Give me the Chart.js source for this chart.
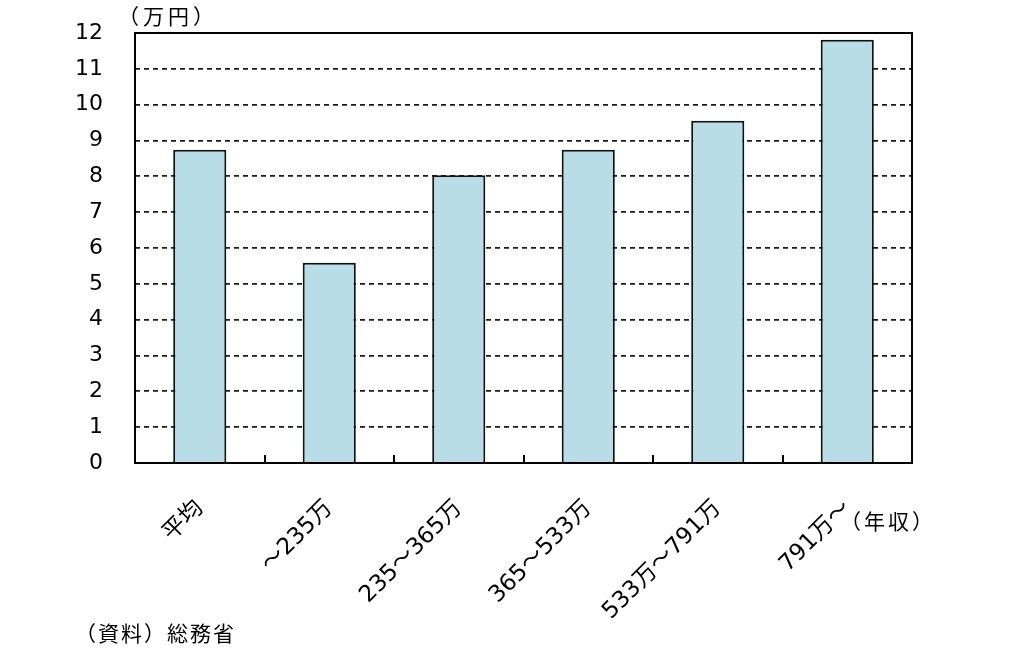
<!DOCTYPE html>
<html>
<head>
<meta charset="utf-8">
<script src="https://cdn.jsdelivr.net/npm/chart.js@4"></script>
<style>
html,body{margin:0;padding:0;background:#fff;}
#wrap{width:1036px;height:658px;position:relative;}
</style>
</head>
<body>
<div id="wrap"><canvas id="c" width="1036" height="658"></canvas></div>
<script>
const categories = ['平均', '～235万', '235～365万', '365～533万', '533万～791万', '791万～'];
const values = [8.74, 5.59, 8.03, 8.74, 9.55, 11.81];
const yTickValues = [0, 1, 2, 3, 4, 5, 6, 7, 8, 9, 10, 11, 12];
const unitLabel = '（万円）';
const lastSuffix = '（年収）';
const sourceNote = '（資料）総務省';

const FONT = '"DejaVu Sans", "Noto Sans CJK JP", sans-serif';
const CJK = '"Noto Sans CJK JP", sans-serif';

const decor = {
  id: 'decor',
  afterDatasetsDraw(chart) {
    const ctx = chart.ctx;
    const a = chart.chartArea;
    const xs = chart.scales.x;
    ctx.save();
    ctx.strokeStyle = '#000';
    ctx.lineWidth = 2;
    ctx.strokeRect(a.left, a.top, a.right - a.left, a.bottom - a.top);
    for (let i = 1; i < categories.length; i++) {
      const x = (xs.getPixelForValue(i - 1) + xs.getPixelForValue(i)) / 2;
      ctx.beginPath();
      ctx.moveTo(Math.round(x), a.bottom);
      ctx.lineTo(Math.round(x), a.bottom - 8);
      ctx.stroke();
    }
    ctx.fillStyle = '#000';
    ctx.textBaseline = 'alphabetic';
    ctx.textAlign = 'left';
    ctx.font = '21px ' + CJK;
    ctx.letterSpacing = '4px';
    ctx.fillText(unitLabel, 118, 24);
    ctx.letterSpacing = '2px';
    ctx.fillText(sourceNote, 75, 641);
    ctx.letterSpacing = '3px';
    ctx.fillText(lastSuffix, 840, 529);
    ctx.restore();
  }
};

new Chart(document.getElementById('c'), {
  type: 'bar',
  data: {
    labels: categories,
    datasets: [{
      data: values,
      backgroundColor: '#b8dde7',
      borderColor: '#111',
      borderWidth: 2,
      barPercentage: 0.41,
      categoryPercentage: 1.0
    }]
  },
  options: {
    responsive: false,
    animation: false,
    devicePixelRatio: 1,
    layout: { autoPadding: false, padding: { left: 0, top: 33, right: 124, bottom: 0 } },
    plugins: { legend: { display: false }, tooltip: { enabled: false } },
    scales: {
      x: {
        grid: { display: false, drawTicks: false },
        border: { display: false },
        ticks: {
          color: '#000',
          font: { family: FONT, size: 23 },
          maxRotation: 45, minRotation: 45,
          padding: 32,
          autoSkip: false
        },
        afterFit(s) { s.height = 195; s.paddingLeft = 0; s.paddingRight = 0; }
      },
      y: {
        min: 0, max: 12,
        afterBuildTicks(s) { s.ticks = yTickValues.map(v => ({ value: v })); },
        grid: { color: '#1a1a1a', lineWidth: 1.8, drawTicks: false },
        border: { display: false, dash: [5, 4] },
        ticks: {
          color: '#000',
          font: { family: FONT, size: 22 },
          padding: 32
        },
        afterFit(s) { s.width = 135; s.paddingTop = 0; s.paddingBottom = 0; }
      }
    }
  },
  plugins: [decor]
});
</script>
</body>
</html>
